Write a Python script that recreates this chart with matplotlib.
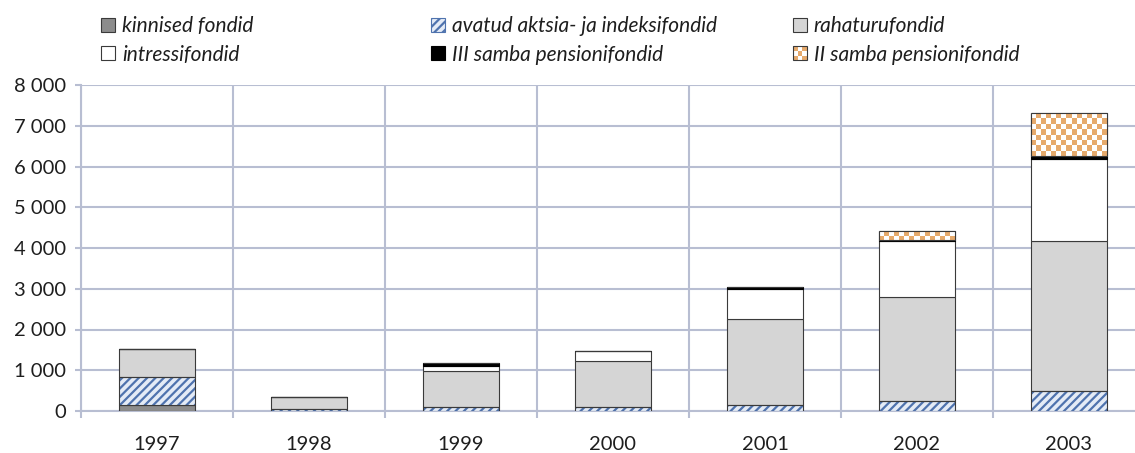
import numpy as np
import matplotlib.pyplot as plt
from matplotlib.patches import Rectangle, Patch
from matplotlib.legend_handler import HandlerBase
from matplotlib.ticker import FuncFormatter, MultipleLocator

years = ["1997", "1998", "1999", "2000", "2001", "2002", "2003"]
kinnised = [140, 0, 0, 0, 0, 0, 0]
avatud = [690, 40, 100, 90, 150, 245, 490]
rahaturu = [694, 300, 890, 1135, 2110, 2545, 3680]
intressi = [0, 0, 120, 245, 735, 1375, 2005]
samba3 = [0, 0, 65, 0, 50, 40, 90]
samba2 = [0, 0, 0, 0, 0, 210, 1040]

labels = ["kinnised fondid", "avatud aktsia- ja indeksifondid", "rahaturufondid",
          "intressifondid", "III samba pensionifondid", "II samba pensionifondid"]

GRID = "#B8BED2"
EDGE = "#3a3a3a"
ORANGE = "#E6AA6C"
BLUE = "#4F73AE"
TEXT = "#1e1e1e"

plt.rcParams["font.family"] = ["Lato", "DejaVu Sans"]
plt.rcParams["hatch.linewidth"] = 1.6


class CheckerHandler(HandlerBase):
    def create_artists(self, legend, orig_handle, xdescent, ydescent,
                       width, height, fontsize, trans):
        n = 3
        cw, ch = width / n, height / n
        arts = []
        for i in range(n):
            for j in range(n):
                c = ORANGE if (i + j) % 2 == 0 else "white"
                arts.append(Rectangle((-xdescent + i * cw, -ydescent + j * ch), cw, ch,
                                      facecolor=c, edgecolor="none", transform=trans))
        arts.append(Rectangle((-xdescent, -ydescent), width, height, fill=False,
                              edgecolor=EDGE, lw=0.8, transform=trans))
        return arts


fig = plt.figure(figsize=(11.35, 4.53), dpi=100)
ax = fig.add_axes([81 / 1135, 42 / 453, 1064 / 1135, 326 / 453])

x = np.arange(len(years))
w = 0.5
bottom = np.zeros(len(years))

ax.bar(x, kinnised, w, bottom=bottom, color="#8C8C8C", edgecolor=EDGE, lw=0.8, zorder=3)
bottom += kinnised
# hatched layer: hatch drawn in blue, outline added on top
ax.bar(x, avatud, w, bottom=bottom, color="#E4EBF6", edgecolor=BLUE, hatch="////", lw=0, zorder=3)
ax.bar(x, avatud, w, bottom=bottom, fill=False, edgecolor=EDGE, lw=0.8, zorder=4)
bottom += avatud
ax.bar(x, rahaturu, w, bottom=bottom, color="#D5D5D5", edgecolor=EDGE, lw=0.8, zorder=3)
bottom += rahaturu
ax.bar(x, intressi, w, bottom=bottom, color="white", edgecolor=EDGE, lw=0.8, zorder=3)
bottom += intressi
ax.bar(x, samba3, w, bottom=bottom, color="black", edgecolor="black", lw=0.8, zorder=3)
bottom += samba3
chk = ax.bar(x, samba2, w, bottom=bottom, color="white", edgecolor=EDGE, lw=0.8, zorder=3)

ax.set_xlim(-0.5, len(years) - 0.5)
ax.set_ylim(0, 8000)

# checkerboard texture for II samba, ~5 px cells
fig.canvas.draw()
for p in chk.patches:
    if p.get_height() <= 0:
        continue
    x0, y0 = p.get_x(), p.get_y()
    x1, y1 = x0 + p.get_width(), y0 + p.get_height()
    (px0, py0), (px1, py1) = ax.transData.transform([(x0, y0), (x1, y1)])
    nc = max(1, int(round((px1 - px0) / 5)))
    nr = max(1, int(round((py1 - py0) / 5)))
    grid = (np.add.outer(np.arange(nr), np.arange(nc)) % 2).astype(float)
    img = np.ones((nr, nc, 3))
    oc = np.array([0xE6, 0xAA, 0x6C]) / 255
    img[grid == 0] = oc
    im = ax.imshow(img, extent=(x0, x1, y0, y1), origin="lower", aspect="auto",
                   interpolation="nearest", zorder=3.5)
    im.set_clip_path(p)
    ax.add_patch(Rectangle((x0, y0), x1 - x0, y1 - y0, fill=False, edgecolor=EDGE,
                           lw=0.8, zorder=4))

ax.set_xlim(-0.5, len(years) - 0.5)
ax.set_ylim(0, 8000)

ax.set_xticks(x)
ax.set_xticklabels(years)
ax.set_xticks(np.arange(-0.5, len(years), 1), minor=True)
ax.yaxis.set_major_locator(MultipleLocator(1000))
ax.yaxis.set_major_formatter(FuncFormatter(lambda v, _: f"{int(v):,}".replace(",", " ")))

ax.tick_params(axis="x", which="major", length=0, pad=18, labelsize=14.5, labelcolor=TEXT)
ax.tick_params(axis="x", which="minor", length=5, width=1.5, color=GRID)
ax.tick_params(axis="y", length=4, width=1.5, color=GRID, pad=7, labelsize=14.5, labelcolor=TEXT)

ax.grid(axis="y", which="major", color=GRID, lw=1.5, zorder=0)
ax.grid(axis="x", which="minor", color=GRID, lw=1.5, zorder=0)
ax.set_axisbelow(True)
for s in ["top", "right"]:
    ax.spines[s].set_visible(False)
for s in ["left", "bottom"]:
    ax.spines[s].set_color(GRID)
    ax.spines[s].set_linewidth(1.5)

handles = [
    Patch(facecolor="#8C8C8C", edgecolor=EDGE, lw=0.8),
    Patch(facecolor="#E4EBF6", edgecolor=BLUE, hatch="////", lw=0.8),
    Patch(facecolor="#D5D5D5", edgecolor=EDGE, lw=0.8),
    Patch(facecolor="white", edgecolor=EDGE, lw=0.8),
    Patch(facecolor="black", edgecolor="black", lw=0.8),
    Patch(facecolor=ORANGE),
]
cols = [(0, 3, 101), (1, 4, 431), (2, 5, 793)]
for a, b, px in cols:
    leg = fig.legend([handles[a], handles[b]], [labels[a], labels[b]],
                     loc="upper left", bbox_to_anchor=(px / 1135, 1 - 16 / 453),
                     frameon=False, borderpad=0, borderaxespad=0,
                     handlelength=0.65, handleheight=0.65, handletextpad=0.35,
                     labelspacing=0.42, prop={"size": 15, "style": "italic"},
                     handler_map={handles[5]: CheckerHandler()})
    for t in leg.get_texts():
        t.set_color(TEXT)

fig.savefig("out.png", dpi=100)
